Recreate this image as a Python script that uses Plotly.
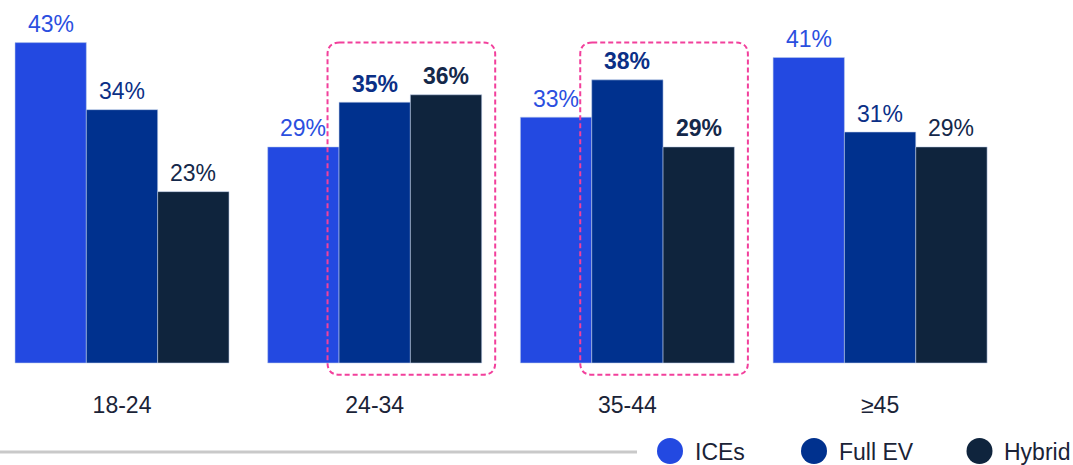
import plotly.graph_objects as go

# ---- data -------------------------------------------------------------
age_groups = ["18-24", "24-34", "35-44", "≥45"]
series_names = ["ICEs", "Full EV", "Hybrid"]
ices = [43, 29, 33, 41]
full_ev = [34, 35, 38, 31]
hybrid = [23, 36, 29, 29]
framed_groups = [1, 2]  # groups whose Full EV + Hybrid bars get a dashed frame

# ---- styling ----------------------------------------------------------
W, H = 1073, 465
FONT = "Liberation Sans, Arial, Helvetica, sans-serif"
colors = ["#2349E1", "#00318E", "#0F243D"]
label_colors = ["#2B4FDF", "#0B2F86", "#14284A"]
text_dark = "#1A2337"
pink = "#F2409C"

X_RANGE = [-0.4828, 3.7634]
Y_RANGE = [-13.69, 48.72]
BW = 0.2823                       # width of one bar in category units
offsets = [-BW, 0.0, BW]
px_per_x = W / (X_RANGE[1] - X_RANGE[0])
px_per_y = H / (Y_RANGE[1] - Y_RANGE[0])

series_values = [ices, full_ev, hybrid]
positions = list(range(len(age_groups)))

fig = go.Figure()
for name, vals, col, off in zip(series_names, series_values, colors, offsets):
    fig.add_trace(go.Bar(
        name=name,
        x=[p + off for p in positions],
        y=vals,
        width=BW,
        marker=dict(color=col, line=dict(color="rgba(190,205,235,0.55)", width=1)),
        showlegend=False,
        hoverinfo="skip",
    ))

annotations = []
# value labels above each bar
for s, (vals, off, lc) in enumerate(zip(series_values, offsets, label_colors)):
    for g, v in zip(positions, vals):
        txt = f"{v}%"
        if g in framed_groups and s > 0:
            txt = f"<b>{txt}</b>"
        annotations.append(dict(
            x=g + off, y=v, xref="x", yref="y", text=txt, showarrow=False,
            yanchor="bottom", xanchor="center", yshift=3.5,
            font=dict(family=FONT, size=23, color=lc),
        ))

# dashed rounded frames around Full EV + Hybrid of highlighted groups
shapes = []
frame_top = max(max(v) for v in series_values)
frame_bot = -11.7 / px_per_y
rx, ry = 12 / px_per_x, 12 / px_per_y
for g in framed_groups:
    x0 = g + offsets[1] - BW / 2 - 11.5 / px_per_x
    x1 = g + offsets[2] + BW / 2 + 13.5 / px_per_x
    y0, y1 = frame_bot, frame_top
    path = (f"M{x0+rx},{y1} L{x1-rx},{y1} Q{x1},{y1} {x1},{y1-ry} "
            f"L{x1},{y0+ry} Q{x1},{y0} {x1-rx},{y0} L{x0+rx},{y0} "
            f"Q{x0},{y0} {x0},{y0+ry} L{x0},{y1-ry} Q{x0},{y1} {x0+rx},{y1} Z")
    shapes.append(dict(type="path", path=path, xref="x", yref="y",
                       line=dict(color=pink, width=2, dash="5px,3px"),
                       fillcolor="rgba(0,0,0,0)", layer="above"))

# grey rule and legend at the bottom (pixel layout -> paper coords)
def px(xp):
    return xp / W

def py(yp):
    return (H - yp) / H

shapes.append(dict(type="line", xref="paper", yref="paper",
                   x0=px(0), x1=px(637), y0=py(452), y1=py(452),
                   line=dict(color="#C9C9C9", width=3)))

legend_circle_cx = [670, 814, 979.5]
legend_text_x = [693, 837, 1002]
R = 13
for name, col, cx, tx in zip(series_names, colors, legend_circle_cx, legend_text_x):
    shapes.append(dict(type="circle", xref="paper", yref="paper",
                       x0=px(cx - R), x1=px(cx + R), y0=py(451 + R), y1=py(451 - R),
                       fillcolor=col, line=dict(width=0)))
    annotations.append(dict(x=px(tx), y=py(452), xref="paper", yref="paper",
                            text=name, showarrow=False, xanchor="left", yanchor="middle",
                            font=dict(family=FONT, size=23, color=text_dark)))

zero_pos = -Y_RANGE[0] / (Y_RANGE[1] - Y_RANGE[0])

fig.update_layout(
    template="none",
    width=W, height=H,
    margin=dict(l=0, r=0, t=0, b=0),
    paper_bgcolor="white", plot_bgcolor="white",
    barmode="overlay",
    xaxis=dict(range=X_RANGE, tickmode="array", tickvals=positions, ticktext=age_groups,
               showgrid=False, zeroline=False, showline=False, ticks="",
               anchor="free", position=zero_pos, ticklabelstandoff=26,
               tickfont=dict(family=FONT, size=23, color=text_dark), automargin=False),
    yaxis=dict(range=Y_RANGE, visible=False, automargin=False),
    shapes=shapes,
    annotations=annotations,
)

fig.write_html("out.html")
